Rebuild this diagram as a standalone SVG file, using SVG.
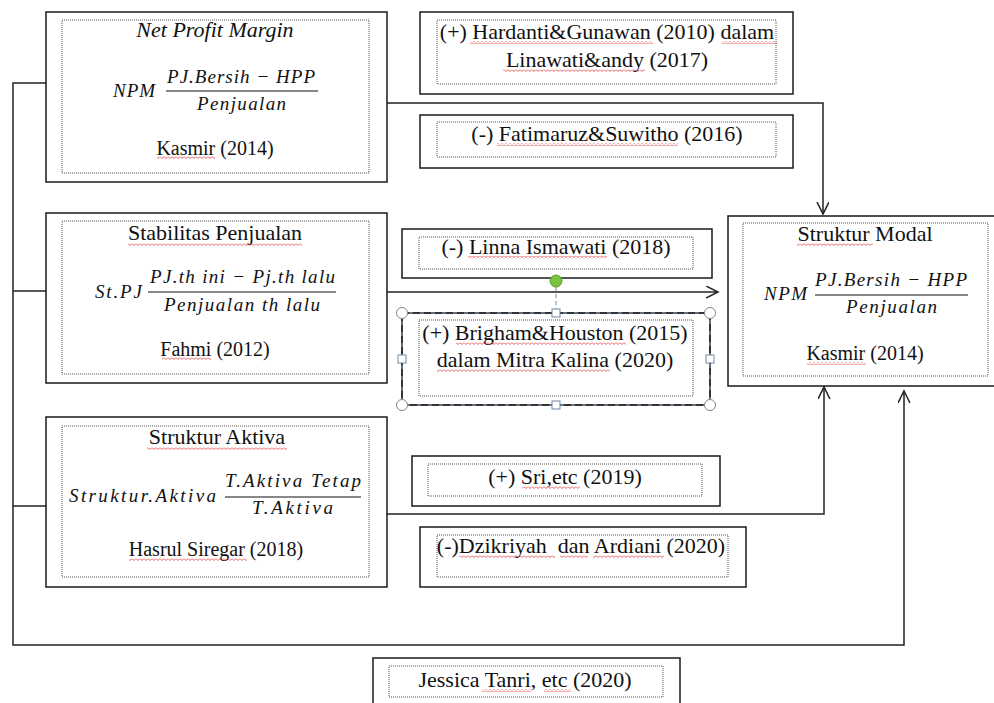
<svg xmlns="http://www.w3.org/2000/svg" width="994" height="703" viewBox="0 0 994 703">
<style>
.box{fill:#fff;stroke:#1a1a1a;stroke-width:1.5}
.inner{fill:none;stroke:#555;stroke-width:1;stroke-dasharray:1 1}
.t{font-family:"Liberation Serif","Times New Roman",serif;font-size:22px;fill:#111;text-anchor:middle}
.s{font-size:20px}
.i{font-style:italic}
.m{font-family:"Liberation Serif","Times New Roman",serif;font-style:italic;font-size:19px;fill:#111}
.fl{stroke:#111;stroke-width:1.2}
.c{fill:none;stroke:#222;stroke-width:1.5}
.sq{fill:url(#sq)}
.h{fill:#fff;stroke:#6d87a8;stroke-width:1}
.hc{fill:#fff;stroke:#888;stroke-width:1}
</style>
<defs>
<marker id="arr" markerWidth="14" markerHeight="14" refX="12" refY="6" orient="auto" markerUnits="userSpaceOnUse">
<path d="M0,0 L12,6 L0,12" fill="none" stroke="#222" stroke-width="1.5"/>
</marker>
<pattern id="sq" width="4" height="3" patternUnits="userSpaceOnUse">
<path d="M0,0.5 L2,2.5 L4,0.5" fill="none" stroke="#e03030" stroke-width="0.8"/>
</pattern>
</defs>
<rect width="994" height="703" fill="#fff"/>

<g id="connectors">
<path class="c" d="M46,83 H13 V645 H904 V391" marker-end="url(#arr)"/>
<path class="c" d="M13,291 H46"/>
<path class="c" d="M13,506 H46"/>
<path class="c" d="M387,103 H823 V214" marker-end="url(#arr)"/>
<path class="c" d="M387,292 H718" marker-end="url(#arr)"/>
<path class="c" d="M387,514 H824 V387" marker-end="url(#arr)"/>
</g>

<g id="npm">
<rect class="box" x="46" y="12" width="341" height="170"/>
<rect class="inner" x="62" y="20" width="307" height="153"/>
<text class="t i" x="215" y="37">Net Profit Margin</text>
<text class="m" x="113" y="97" textLength="42">NPM</text>
<text class="m" x="167" y="83" textLength="148">PJ.Bersih − HPP</text>
<line class="fl" x1="166" y1="91" x2="318" y2="91"/>
<text class="m" x="197" y="110" textLength="89">Penjualan</text>
<text class="t s" x="215" y="155">Kasmir (2014)</text>
<rect class="sq" x="157" y="156" width="58" height="3"/>
</g>

<g id="stabilitas">
<rect class="box" x="46" y="213" width="341" height="170"/>
<rect class="inner" x="62" y="221" width="307" height="153"/>
<text class="t" x="215" y="240">Stabilitas Penjualan</text>
<rect class="sq" x="128" y="243" width="174" height="3"/>
<text class="m" x="95" y="298" textLength="47">St.PJ</text>
<text class="m" x="150" y="283" textLength="185">PJ.th ini − Pj.th lalu</text>
<line class="fl" x1="148" y1="292" x2="336" y2="292"/>
<text class="m" x="164" y="311" textLength="156">Penjualan th lalu</text>
<text class="t s" x="215" y="356">Fahmi (2012)</text>
<rect class="sq" x="162" y="357" width="49" height="3"/>
</g>

<g id="aktiva">
<rect class="box" x="46" y="417" width="341" height="170"/>
<rect class="inner" x="62" y="426" width="307" height="151"/>
<text class="t" x="217" y="444">Struktur Aktiva</text>
<rect class="sq" x="147" y="447" width="140" height="3"/>
<text class="m" x="69" y="502" textLength="147">Struktur.Aktiva</text>
<text class="m" x="225" y="487" textLength="136">T.Aktiva Tetap</text>
<line class="fl" x1="225" y1="497" x2="361" y2="497"/>
<text class="m" x="252" y="514" textLength="81">T.Aktiva</text>
<text class="t s" x="216" y="556">Hasrul Siregar (2018)</text>
<rect class="sq" x="129" y="558" width="118" height="3"/>
</g>

<g id="modal">
<rect class="box" x="728" y="216" width="270" height="170"/>
<rect class="inner" x="743" y="223" width="245" height="153"/>
<text class="t" x="865" y="241">Struktur Modal</text>
<rect class="sq" x="797" y="243" width="76" height="3"/>
<text class="m" x="764" y="300" textLength="43">NPM</text>
<text class="m" x="815" y="286" textLength="152">PJ.Bersih − HPP</text>
<line class="fl" x1="815" y1="295" x2="968" y2="295"/>
<text class="m" x="846" y="313" textLength="91">Penjualan</text>
<text class="t s" x="865" y="360">Kasmir (2014)</text>
<rect class="sq" x="807" y="362" width="59" height="3"/>
</g>

<g id="hardanti">
<rect class="box" x="420" y="12" width="373" height="82"/>
<rect class="inner" x="437" y="20" width="339" height="64"/>
<text class="t" x="607" y="39">(+) Hardanti&amp;Gunawan (2010) dalam</text>
<text class="t" x="607" y="67">Linawati&amp;andy (2017)</text>
<rect class="sq" x="470" y="41" width="183" height="3"/>
<rect class="sq" x="722" y="41" width="55" height="3"/>
<rect class="sq" x="503" y="69" width="142" height="3"/>
</g>

<g id="fatimaruz">
<rect class="box" x="420" y="115" width="373" height="53"/>
<rect class="inner" x="437" y="122" width="339" height="35"/>
<text class="t" x="607" y="141">(-) Fatimaruz&amp;Suwitho (2016)</text>
<rect class="sq" x="497" y="143" width="181" height="3"/>
</g>

<g id="linna">
<rect class="box" x="402" y="229" width="310" height="49"/>
<rect class="inner" x="419" y="237" width="274" height="32"/>
<text class="t" x="556" y="254">(-) Linna Ismawati (2018)</text>
<rect class="sq" x="468" y="256" width="139" height="3"/>
</g>

<g id="brigham">
<rect class="box" x="402" y="313" width="308" height="92"/>
<rect class="inner" x="419" y="320" width="274" height="76"/>
<text class="t" x="555" y="340">(+) Brigham&amp;Houston (2015)</text>
<text class="t" x="555" y="367">dalam Mitra Kalina (2020)</text>
<rect class="sq" x="456" y="342" width="170" height="3"/>
<rect class="sq" x="437" y="369" width="173" height="3"/>
<rect x="402" y="313" width="308" height="92" fill="none" stroke="#7a8ea8" stroke-width="1"/>
<rect x="402" y="313" width="308" height="92" fill="none" stroke="#222" stroke-width="1.5" stroke-dasharray="7 4"/>
<line x1="556" y1="287" x2="556" y2="309" stroke="#6d87a8" stroke-width="1" stroke-dasharray="4 3"/>
<circle cx="556" cy="281" r="6" fill="#7dc242" stroke="#5a9a2a" stroke-width="1"/>
<circle class="hc" cx="402" cy="313" r="5.5"/>
<circle class="hc" cx="710" cy="313" r="5.5"/>
<circle class="hc" cx="402" cy="405" r="5.5"/>
<circle class="hc" cx="710" cy="405" r="5.5"/>
<rect class="h" x="552" y="309" width="8" height="8"/>
<rect class="h" x="552" y="401" width="8" height="8"/>
<rect class="h" x="398" y="355" width="8" height="8"/>
<rect class="h" x="706" y="355" width="8" height="8"/>
</g>

<g id="sri">
<rect class="box" x="412" y="456" width="308" height="50"/>
<rect class="inner" x="428" y="464" width="274" height="32"/>
<text class="t" x="565" y="484">(+) Sri,etc (2019)</text>
<rect class="sq" x="522" y="486" width="58" height="3"/>
</g>

<g id="dzikriyah">
<rect class="box" x="420" y="527" width="326" height="60"/>
<rect class="inner" x="437" y="535" width="291" height="42"/>
<text class="t" x="581" y="553" xml:space="preserve">(-)Dzikriyah  dan Ardiani (2020)</text>
<rect class="sq" x="459" y="555" width="96" height="3"/>
<rect class="sq" x="560" y="555" width="28" height="3"/>
<rect class="sq" x="593" y="555" width="71" height="3"/>
</g>

<g id="jessica">
<rect class="box" x="373" y="658" width="307" height="60"/>
<rect class="inner" x="389" y="666" width="274" height="31"/>
<text class="t" x="525" y="687">Jessica Tanri, etc (2020)</text>
<rect class="sq" x="482" y="689" width="49" height="3"/>
<rect class="sq" x="544" y="689" width="27" height="3"/>
</g>
</svg>
